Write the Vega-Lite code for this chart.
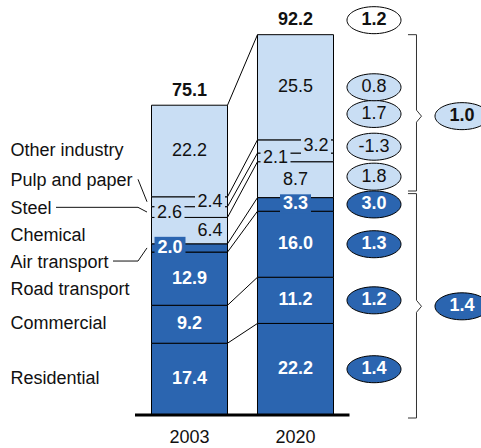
{
  "$schema": "https://vega.github.io/schema/vega-lite/v6.json",
  "width": 481,
  "height": 415,
  "autosize": {"type": "none"},
  "padding": {"left": 0, "top": 0, "right": 0, "bottom": 33},
  "background": "#ffffff",
  "config": {
    "view": {"stroke": null},
    "font": "Liberation Sans",
    "locale": {"number": {"decimal": ".", "thousands": ",", "grouping": [3], "currency": ["$", ""], "minus": "-"}}
  },
  "datasets": {
    "sectors": [
      {"cat": "Residential", "grp": "dark", "k": 1, "2003": 17.4, "2020": 22.2, "g": 1.4},
      {"cat": "Commercial", "grp": "dark", "k": 2, "2003": 9.2, "2020": 11.2, "g": 1.2},
      {"cat": "Road transport", "grp": "dark", "k": 3, "2003": 12.9, "2020": 16.0, "g": 1.3},
      {"cat": "Air transport", "grp": "dark", "k": 4, "2003": 2.0, "2020": 3.3, "g": 3.0},
      {"cat": "Chemical", "grp": "light", "k": 5, "2003": 6.4, "2020": 8.7, "g": 1.8},
      {"cat": "Steel", "grp": "light", "k": 6, "2003": 2.6, "2020": 2.1, "g": -1.3},
      {"cat": "Pulp and paper", "grp": "light", "k": 7, "2003": 2.4, "2020": 3.2, "g": 1.7},
      {"cat": "Other industry", "grp": "light", "k": 8, "2003": 22.2, "2020": 25.5, "g": 0.8}
    ],
    "groups": [{"grp": "dark", "g": 1.4}, {"grp": "light", "g": 1.0}],
    "total": [{"year": "2020", "g": 1.2}]
  },
  "layer": [
    {
      "data": {"name": "sectors"},
      "transform": [
        {"fold": ["2003", "2020"], "as": ["year", "value"]},
        {"stack": "value", "groupby": ["year"], "sort": [{"field": "k", "order": "ascending"}], "as": ["y0", "y1"]},
        {"calculate": "(datum.y0 + datum.y1) / 2", "as": "mid"},
        {"calculate": "datum.mid + (datum.year === '2003' ? (datum.cat === 'Pulp and paper' ? 5.07 : datum.cat === 'Steel' ? 0.78 : datum.cat === 'Chemical' ? -1.31 : datum.cat === 'Air transport' ? -3.54 : datum.cat === 'Road transport' ? -2.86 : 0) : (datum.cat === 'Pulp and paper' ? 7.88 : datum.cat === 'Steel' ? 2.59 : datum.cat === 'Chemical' ? 0.73 : 0))", "as": "ly"}
      ],
      "layer": [
        {
          "mark": {"type": "bar", "stroke": "#000", "strokeWidth": 1},
          "encoding": {
            "x": {"field": "year", "type": "nominal", "scale": {"domain": ["2003", "2020"], "range": [151.5, 333.5], "paddingInner": 0.283, "paddingOuter": 0}, "axis": null},
            "y": {"field": "y1", "type": "quantitative", "scale": {"domain": [0, 100.606], "nice": false}, "axis": null},
            "y2": {"field": "y0"},
            "fill": {"field": "grp", "type": "nominal", "scale": {"domain": ["dark", "light"], "range": ["#2B65B0", "#C9DEF4"]}, "legend": null}
          }
        },
        {
          "transform": [{"filter": "datum.cat === 'Steel'"}],
          "mark": {"type": "point", "shape": "M-1,-0.57L1,-0.57L1,0.57L-1,0.57Z", "size": 900, "filled": true, "opacity": 1, "strokeWidth": 0, "xOffset": -20, "yOffset": 1},
          "encoding": {
            "x": {"field": "year", "type": "nominal", "axis": null},
            "y": {"field": "mid", "type": "quantitative", "axis": null},
            "fill": {"field": "grp", "type": "nominal", "legend": null}
          }
        },
        {
          "transform": [{"filter": "datum.cat === 'Pulp and paper'"}],
          "mark": {"type": "point", "shape": "M-1,-0.57L1,-0.57L1,0.57L-1,0.57Z", "size": 900, "filled": true, "opacity": 1, "strokeWidth": 0, "xOffset": 20.5, "yOffset": 0},
          "encoding": {
            "x": {"field": "year", "type": "nominal", "axis": null},
            "y": {"field": "mid", "type": "quantitative", "axis": null},
            "fill": {"field": "grp", "type": "nominal", "legend": null}
          }
        },
        {
          "transform": [{"filter": "datum.cat === 'Air transport' && datum.year === '2003'"}],
          "mark": {"type": "point", "shape": "M-1,-0.62L1,-0.62L1,0.62L-1,0.62Z", "size": 961, "filled": true, "opacity": 1, "strokeWidth": 0, "xOffset": -19.5, "yOffset": -1.5},
          "encoding": {
            "x": {"field": "year", "type": "nominal", "axis": null},
            "y": {"field": "mid", "type": "quantitative", "axis": null},
            "fill": {"field": "grp", "type": "nominal", "legend": null}
          }
        },
        {
          "transform": [{"filter": "datum.cat === 'Air transport' && datum.year === '2020'"}],
          "mark": {"type": "point", "shape": "M-1,-0.62L1,-0.62L1,0.62L-1,0.62Z", "size": 961, "filled": true, "opacity": 1, "strokeWidth": 0, "yOffset": -0.5},
          "encoding": {
            "x": {"field": "year", "type": "nominal", "axis": null},
            "y": {"field": "mid", "type": "quantitative", "axis": null},
            "fill": {"field": "grp", "type": "nominal", "legend": null}
          }
        },
        {
          "transform": [{"filter": "datum.grp === 'dark' && !(datum.cat === 'Air transport' && datum.year === '2003')"}],
          "mark": {"type": "text", "fontSize": 18, "fontWeight": "bold", "fill": "#ffffff", "baseline": "middle"},
          "encoding": {
            "x": {"field": "year", "type": "nominal", "axis": null},
            "y": {"field": "mid", "type": "quantitative", "axis": null},
            "text": {"field": "value", "type": "quantitative", "format": ".1f"}
          }
        },
        {
          "transform": [{"filter": "datum.cat === 'Air transport' && datum.year === '2003'"}],
          "mark": {"type": "text", "fontSize": 18, "fontWeight": "bold", "fill": "#ffffff", "baseline": "middle", "xOffset": -19.5},
          "encoding": {
            "x": {"field": "year", "type": "nominal", "axis": null},
            "y": {"field": "mid", "type": "quantitative", "axis": null},
            "text": {"field": "value", "type": "quantitative", "format": ".1f"}
          }
        },
        {
          "transform": [{"filter": "datum.grp === 'light' && datum.cat !== 'Steel' && datum.cat !== 'Pulp and paper' && !(datum.cat === 'Chemical' && datum.year === '2003')"}],
          "mark": {"type": "text", "fontSize": 18, "fill": "#111", "baseline": "middle"},
          "encoding": {
            "x": {"field": "year", "type": "nominal", "axis": null},
            "y": {"field": "mid", "type": "quantitative", "axis": null},
            "text": {"field": "value", "type": "quantitative", "format": ".1f"}
          }
        },
        {
          "transform": [{"filter": "datum.cat === 'Steel'"}],
          "mark": {"type": "text", "fontSize": 18, "fill": "#111", "baseline": "middle", "xOffset": -20, "yOffset": 1},
          "encoding": {
            "x": {"field": "year", "type": "nominal", "axis": null},
            "y": {"field": "mid", "type": "quantitative", "axis": null},
            "text": {"field": "value", "type": "quantitative", "format": ".1f"}
          }
        },
        {
          "transform": [{"filter": "datum.cat === 'Pulp and paper' || (datum.cat === 'Chemical' && datum.year === '2003')"}],
          "mark": {"type": "text", "fontSize": 18, "fill": "#111", "baseline": "middle", "xOffset": 20.5},
          "encoding": {
            "x": {"field": "year", "type": "nominal", "axis": null},
            "y": {"field": "mid", "type": "quantitative", "axis": null},
            "text": {"field": "value", "type": "quantitative", "format": ".1f"}
          }
        },
        {
          "transform": [{"filter": "datum.year === '2003'"}],
          "mark": {"type": "text", "fontSize": 18, "fill": "#111", "baseline": "middle", "align": "left", "xOffset": -179},
          "encoding": {
            "x": {"field": "year", "type": "nominal", "axis": null},
            "y": {"field": "ly", "type": "quantitative", "axis": null},
            "text": {"field": "cat", "type": "nominal"}
          }
        },
        {
          "transform": [{"filter": "datum.year === '2003' && (datum.cat === 'Pulp and paper' || datum.cat === 'Steel' || datum.cat === 'Air transport')"}],
          "mark": {"type": "rule", "stroke": "#111", "strokeWidth": 1, "xOffset": -51.5, "x2Offset": -42.5, "yOffset": -1.5},
          "encoding": {
            "x": {"field": "year", "type": "nominal", "axis": null},
            "x2": {"field": "year"},
            "y": {"field": "ly", "type": "quantitative", "axis": null},
            "y2": {"field": "mid"}
          }
        },
        {
          "transform": [{"filter": "datum.year === '2003' && datum.cat === 'Steel'"}],
          "mark": {"type": "rule", "stroke": "#111", "strokeWidth": 1, "xOffset": -133.5, "x2Offset": -51.5, "yOffset": -1.5},
          "encoding": {
            "x": {"field": "year", "type": "nominal", "axis": null},
            "x2": {"field": "year"},
            "y": {"field": "ly", "type": "quantitative", "axis": null}
          }
        },
        {
          "transform": [{"filter": "datum.year === '2003' && datum.cat === 'Air transport'"}],
          "mark": {"type": "rule", "stroke": "#111", "strokeWidth": 1, "xOffset": -76.5, "x2Offset": -51.5, "yOffset": -1.5},
          "encoding": {
            "x": {"field": "year", "type": "nominal", "axis": null},
            "x2": {"field": "year"},
            "y": {"field": "ly", "type": "quantitative", "axis": null}
          }
        },
        {
          "transform": [{"filter": "datum.year === '2020'"}],
          "mark": {"type": "point", "shape": "M1,0C1,0.276,0.552,0.5,0,0.5C-0.552,0.5,-1,0.276,-1,0C-1,-0.276,-0.552,-0.5,0,-0.5C0.552,-0.5,1,-0.276,1,0Z", "size": 2916, "filled": true, "opacity": 1, "stroke": "#000", "strokeWidth": 1, "xOffset": 78.5},
          "encoding": {
            "x": {"field": "year", "type": "nominal", "axis": null},
            "y": {"field": "ly", "type": "quantitative", "axis": null},
            "fill": {"field": "grp", "type": "nominal", "legend": null}
          }
        },
        {
          "transform": [{"filter": "datum.year === '2020' && datum.grp === 'dark'"}],
          "mark": {"type": "text", "fontSize": 18, "fontWeight": "bold", "fill": "#ffffff", "baseline": "middle", "xOffset": 78.5},
          "encoding": {
            "x": {"field": "year", "type": "nominal", "axis": null},
            "y": {"field": "ly", "type": "quantitative", "axis": null},
            "text": {"field": "g", "type": "quantitative", "format": ".1f"}
          }
        },
        {
          "transform": [{"filter": "datum.year === '2020' && datum.grp === 'light'"}],
          "mark": {"type": "text", "fontSize": 18, "fill": "#111", "baseline": "middle", "xOffset": 78.5},
          "encoding": {
            "x": {"field": "year", "type": "nominal", "axis": null},
            "y": {"field": "ly", "type": "quantitative", "axis": null},
            "text": {"field": "g", "type": "quantitative", "format": ".1f"}
          }
        }
      ]
    },
    {
      "data": {"name": "sectors"},
      "transform": [
        {"window": [{"op": "sum", "field": "2003", "as": "c03"}, {"op": "sum", "field": "2020", "as": "c20"}], "sort": [{"field": "k", "order": "ascending"}], "frame": [null, 0]}
      ],
      "mark": {"type": "rule", "stroke": "#000", "strokeWidth": 1, "xOffset": 38, "x2Offset": -38},
      "encoding": {
        "x": {"datum": "2003", "type": "nominal", "axis": null},
        "x2": {"datum": "2020"},
        "y": {"field": "c03", "type": "quantitative", "axis": null},
        "y2": {"field": "c20"}
      }
    },
    {
      "data": {"name": "sectors"},
      "transform": [
        {"fold": ["2003", "2020"], "as": ["year", "value"]},
        {"aggregate": [{"op": "sum", "field": "value", "as": "tot"}], "groupby": ["year"]},
        {"lookup": "year", "from": {"data": {"name": "total"}, "key": "year", "fields": ["g"]}}
      ],
      "layer": [
        {
          "mark": {"type": "text", "fontSize": 18, "fontWeight": "bold", "fill": "#111", "baseline": "middle", "yOffset": -14.5},
          "encoding": {
            "x": {"field": "year", "type": "nominal", "axis": null},
            "y": {"field": "tot", "type": "quantitative", "axis": null},
            "text": {"field": "tot", "type": "quantitative", "format": ".1f"}
          }
        },
        {
          "mark": {"type": "text", "fontSize": 18, "fill": "#111", "baseline": "middle", "yOffset": 23},
          "encoding": {
            "x": {"field": "year", "type": "nominal", "axis": null},
            "y": {"datum": 0, "type": "quantitative", "axis": null},
            "text": {"field": "year", "type": "nominal"}
          }
        },
        {
          "transform": [{"filter": "datum.year === '2020'"}],
          "mark": {"type": "point", "shape": "M1,0C1,0.276,0.552,0.5,0,0.5C-0.552,0.5,-1,0.276,-1,0C-1,-0.276,-0.552,-0.5,0,-0.5C0.552,-0.5,1,-0.276,1,0Z", "size": 2916, "filled": true, "opacity": 1, "fill": "#ffffff", "stroke": "#000", "strokeWidth": 1, "xOffset": 78.5, "yOffset": -14.5},
          "encoding": {
            "x": {"field": "year", "type": "nominal", "axis": null},
            "y": {"field": "tot", "type": "quantitative", "axis": null}
          }
        },
        {
          "transform": [{"filter": "datum.year === '2020'"}],
          "mark": {"type": "text", "fontSize": 18, "fontWeight": "bold", "fill": "#111", "baseline": "middle", "xOffset": 78.5, "yOffset": -14.5},
          "encoding": {
            "x": {"field": "year", "type": "nominal", "axis": null},
            "y": {"field": "tot", "type": "quantitative", "axis": null},
            "text": {"field": "g", "type": "quantitative", "format": ".1f"}
          }
        },
        {
          "transform": [{"filter": "datum.year === '2003'"}],
          "mark": {"type": "rule", "stroke": "#000", "strokeWidth": 3, "xOffset": -54.5, "x2Offset": 54},
          "encoding": {
            "x": {"datum": "2003", "type": "nominal", "axis": null},
            "x2": {"datum": "2020"},
            "y": {"datum": 0, "type": "quantitative", "axis": null}
          }
        }
      ]
    },
    {
      "data": {"name": "sectors"},
      "transform": [
        {"aggregate": [{"op": "sum", "field": "2020", "as": "s"}], "groupby": ["grp"]},
        {"stack": "s", "groupby": [], "sort": [{"field": "grp", "order": "ascending"}], "as": ["g0", "g1"]},
        {"calculate": "(datum.g0 + datum.g1) / 2", "as": "gm"},
        {"calculate": "datum.g1 + (datum.grp === 'dark' ? 0.97 : 0)", "as": "bt"},
        {"calculate": "datum.g0 + (datum.grp === 'dark' ? -0.73 : 1.6)", "as": "bb"},
        {"lookup": "grp", "from": {"data": {"name": "groups"}, "key": "grp", "fields": ["g"]}}
      ],
      "layer": [
        {
          "mark": {"type": "rule", "stroke": "#333", "strokeWidth": 1, "xOffset": 112.5, "x2Offset": 121},
          "encoding": {
            "x": {"datum": "2020", "type": "nominal", "axis": null},
            "x2": {"datum": "2020"},
            "y": {"field": "bt", "type": "quantitative", "axis": null}
          }
        },
        {
          "mark": {"type": "rule", "stroke": "#333", "strokeWidth": 1, "xOffset": 112.5, "x2Offset": 121},
          "encoding": {
            "x": {"datum": "2020", "type": "nominal", "axis": null},
            "x2": {"datum": "2020"},
            "y": {"field": "bb", "type": "quantitative", "axis": null}
          }
        },
        {
          "mark": {"type": "rule", "stroke": "#333", "strokeWidth": 1, "xOffset": 121, "y2Offset": -6},
          "encoding": {
            "x": {"datum": "2020", "type": "nominal", "axis": null},
            "y": {"field": "bt", "type": "quantitative", "axis": null},
            "y2": {"field": "gm"}
          }
        },
        {
          "mark": {"type": "rule", "stroke": "#333", "strokeWidth": 1, "xOffset": 121, "yOffset": 6},
          "encoding": {
            "x": {"datum": "2020", "type": "nominal", "axis": null},
            "y": {"field": "gm", "type": "quantitative", "axis": null},
            "y2": {"field": "bb"}
          }
        },
        {
          "mark": {"type": "rule", "stroke": "#333", "strokeWidth": 1, "xOffset": 121, "x2Offset": 126, "yOffset": -6},
          "encoding": {
            "x": {"datum": "2020", "type": "nominal", "axis": null},
            "x2": {"datum": "2020"},
            "y": {"field": "gm", "type": "quantitative", "axis": null},
            "y2": {"field": "gm"}
          }
        },
        {
          "mark": {"type": "rule", "stroke": "#333", "strokeWidth": 1, "xOffset": 121, "x2Offset": 126, "yOffset": 6},
          "encoding": {
            "x": {"datum": "2020", "type": "nominal", "axis": null},
            "x2": {"datum": "2020"},
            "y": {"field": "gm", "type": "quantitative", "axis": null},
            "y2": {"field": "gm"}
          }
        },
        {
          "mark": {"type": "point", "shape": "M1,0C1,0.276,0.552,0.5,0,0.5C-0.552,0.5,-1,0.276,-1,0C-1,-0.276,-0.552,-0.5,0,-0.5C0.552,-0.5,1,-0.276,1,0Z", "size": 2916, "filled": true, "opacity": 1, "stroke": "#000", "strokeWidth": 1, "xOffset": 166.5},
          "encoding": {
            "x": {"datum": "2020", "type": "nominal", "axis": null},
            "y": {"field": "gm", "type": "quantitative", "axis": null},
            "fill": {"field": "grp", "type": "nominal", "legend": null}
          }
        },
        {
          "transform": [{"filter": "datum.grp === 'dark'"}],
          "mark": {"type": "text", "fontSize": 18, "fontWeight": "bold", "fill": "#ffffff", "baseline": "middle", "xOffset": 166.5},
          "encoding": {
            "x": {"datum": "2020", "type": "nominal", "axis": null},
            "y": {"field": "gm", "type": "quantitative", "axis": null},
            "text": {"field": "g", "type": "quantitative", "format": ".1f"}
          }
        },
        {
          "transform": [{"filter": "datum.grp === 'light'"}],
          "mark": {"type": "text", "fontSize": 18, "fontWeight": "bold", "fill": "#111", "baseline": "middle", "xOffset": 166.5},
          "encoding": {
            "x": {"datum": "2020", "type": "nominal", "axis": null},
            "y": {"field": "gm", "type": "quantitative", "axis": null},
            "text": {"field": "g", "type": "quantitative", "format": ".1f"}
          }
        }
      ]
    }
  ]
}
